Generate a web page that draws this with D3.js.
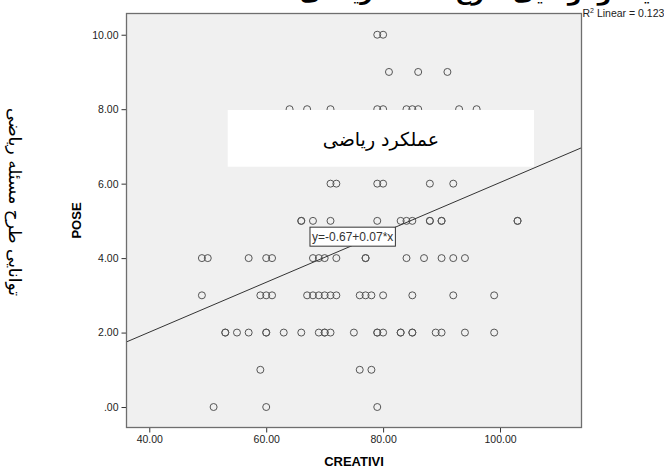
<!DOCTYPE html>
<html>
<head>
<meta charset="utf-8">
<script src="https://cdn.jsdelivr.net/npm/d3@7"></script>
<style>
  body { margin: 0; background: #fff; }
  svg { display: block; }
</style>
</head>
<body>
<svg id="chart" width="664" height="468"></svg>
<script>
// CREATIVI scores of the students, one array per POSE score
const pose0  = [51, 60, 79];
const pose1  = [59, 76, 78];
const pose2  = [53, 53, 55, 57, 60, 60, 63, 66, 69, 70, 70, 71, 75, 79, 79, 80, 83, 83, 85, 85, 89, 90, 94, 99];
const pose3  = [49, 59, 60, 61, 67, 68, 69, 70, 71, 72, 76, 77, 78, 80, 85, 92, 99];
const pose4  = [49, 50, 57, 60, 61, 68, 69, 70, 72, 77, 77, 84, 87, 90, 92, 94];
const pose5  = [66, 66, 68, 71, 79, 83, 84, 85, 88, 88, 90, 90, 103, 103];
const pose6  = [71, 72, 79, 80, 88, 92];
const pose8  = [64, 67, 71, 79, 80, 84, 85, 86, 93, 96];
const pose9  = [81, 86, 91];
const pose10 = [79, 80];

const poseLevels = [0, 1, 2, 3, 4, 5, 6, 8, 9, 10];
const creativiByLevel = [pose0, pose1, pose2, pose3, pose4, pose5, pose6, pose8, pose9, pose10];

// Fitted linear model and its fit
const intercept = -0.67;
const slope = 0.067;
const rSquared = 0.123;
const equationAt = 82.1;   // CREATIVI value where the equation label sits on the line

// Axis ticks
const xTicks = [40, 60, 80, 100];
const xTickLabels = ["40.00", "60.00", "80.00", "100.00"];
const yTicks = [0, 2, 4, 6, 8, 10];
const yTickLabels = [".00", "2.00", "4.00", "6.00", "8.00", "10.00"];

// Texts
const titleText = "رابطه بین خلاقیت و توانایی طرح مسئله ریاضی";
const sideLabel = "توانایی طرح مسئله ریاضی";
const boxLabel = "عملکرد ریاضی";
const xTitle = "CREATIVI";
const yTitle = "POSE";

const points = [];
creativiByLevel.forEach((arr, i) => arr.forEach(c => points.push({ x: c, y: poseLevels[i] })));

const svg = d3.select("#chart");
const plot = { left: 126.5, top: 13.5, width: 455, height: 414 };
const sans = "'Liberation Sans', Arial, Helvetica, sans-serif";
const arabic = "'DejaVu Sans', sans-serif";

const x = d3.scaleLinear().domain([36.1, 113.94]).range([plot.left, plot.left + plot.width]);
const y = d3.scaleLinear().domain([-0.55, 10.57]).range([plot.top + plot.height, plot.top]);

svg.append("rect").attr("width", 664).attr("height", 468).attr("fill", "#fff");

// Title (runs off the top of the page)
svg.append("text")
  .attr("x", 300).attr("y", 0)
  .attr("font-family", arabic).attr("font-weight", "bold").attr("font-size", 22)
  .attr("fill", "#000")
  .text(titleText);

// Plot background
svg.append("rect")
  .attr("x", plot.left).attr("y", plot.top)
  .attr("width", plot.width).attr("height", plot.height)
  .attr("fill", "#f0f0f0");

svg.append("clipPath").attr("id", "plotClip")
  .append("rect")
  .attr("x", plot.left).attr("y", plot.top)
  .attr("width", plot.width).attr("height", plot.height);

// Axes
const yAxis = svg.append("g")
  .attr("transform", `translate(${plot.left},0)`)
  .call(d3.axisLeft(y).tickValues(yTicks).tickFormat((d, i) => yTickLabels[i])
    .tickSize(5).tickSizeOuter(0).tickPadding(3));
const xAxis = svg.append("g")
  .attr("transform", `translate(0,${plot.top + plot.height})`)
  .call(d3.axisBottom(x).tickValues(xTicks).tickFormat((d, i) => xTickLabels[i])
    .tickSize(5).tickSizeOuter(0).tickPadding(3));
[xAxis, yAxis].forEach(ax => {
  ax.select(".domain").remove();
  ax.selectAll(".tick line").attr("stroke", "#333");
  ax.selectAll(".tick text").attr("font-family", sans).attr("font-size", 10.5).attr("fill", "#222");
});

// Scatter points
svg.append("g")
  .selectAll("circle")
  .data(points)
  .join("circle")
  .attr("cx", d => x(d.x))
  .attr("cy", d => y(d.y))
  .attr("r", 3.5)
  .attr("fill", "none")
  .attr("stroke", "#555")
  .attr("stroke-width", 1);

// Regression line
const fit = v => intercept + slope * v;
const [x0, x1] = x.domain();
svg.append("line")
  .attr("clip-path", "url(#plotClip)")
  .attr("x1", x(x0)).attr("y1", y(fit(x0)))
  .attr("x2", x(x1)).attr("y2", y(fit(x1)))
  .attr("stroke", "#333").attr("stroke-width", 1);

// Equation label, top-right corner resting on the line
const eqGroup = svg.append("g");
const eqRect = eqGroup.append("rect");
const eqText = eqGroup.append("text")
  .attr("font-family", sans).attr("font-size", 12).attr("fill", "#333")
  .attr("dominant-baseline", "central")
  .text(`y=${intercept.toFixed(2)}+${slope.toFixed(2)}*x`);
const eqW = eqText.node().getComputedTextLength() + 4;
const eqH = 19;
const eqRight = x(equationAt);
const eqTop = y(fit(equationAt));
eqRect.attr("x", eqRight - eqW).attr("y", eqTop).attr("width", eqW).attr("height", eqH)
  .attr("fill", "#fff").attr("stroke", "#333").attr("stroke-width", 1);
eqText.attr("x", eqRight - eqW + 2).attr("y", eqTop + eqH / 2 + 0.5);

// Plot frame
svg.append("rect")
  .attr("x", plot.left).attr("y", plot.top)
  .attr("width", plot.width).attr("height", plot.height)
  .attr("fill", "none").attr("stroke", "#6e6e6e").attr("stroke-width", 1.3);

// Fit summary beside the frame
const r2 = svg.append("text")
  .attr("x", plot.left + plot.width + 1).attr("y", 16.5)
  .attr("font-family", sans).attr("font-size", 10.5).attr("fill", "#222");
r2.append("tspan").text("R");
r2.append("tspan").attr("font-size", 7).attr("dy", -4).text("2");
r2.append("tspan").attr("dy", 4).text(` Linear = ${rSquared.toFixed(3)}`);

// White caption box inside the plot
svg.append("rect")
  .attr("x", 227.7).attr("y", 110).attr("width", 306.3).attr("height", 56.7)
  .attr("fill", "#fff");
svg.append("text")
  .attr("x", 381).attr("y", 138.5)
  .attr("text-anchor", "middle").attr("dominant-baseline", "central")
  .attr("font-family", arabic).attr("font-size", 19).attr("fill", "#000")
  .text(boxLabel);

// Axis titles
svg.append("text")
  .attr("x", plot.left + plot.width / 2).attr("y", 465.5)
  .attr("text-anchor", "middle")
  .attr("font-family", sans).attr("font-weight", "bold").attr("font-size", 13)
  .text(xTitle);
svg.append("text")
  .attr("transform", `translate(81,${plot.top + plot.height / 2}) rotate(-90)`)
  .attr("text-anchor", "middle")
  .attr("font-family", sans).attr("font-weight", "bold").attr("font-size", 13)
  .text(yTitle);

// Persian label along the left side
svg.append("text")
  .attr("transform", "translate(15,202) rotate(90)")
  .attr("text-anchor", "middle").attr("dominant-baseline", "central")
  .attr("font-family", arabic).attr("font-size", 17).attr("fill", "#000")
  .text(sideLabel);
</script>
</body>
</html>
